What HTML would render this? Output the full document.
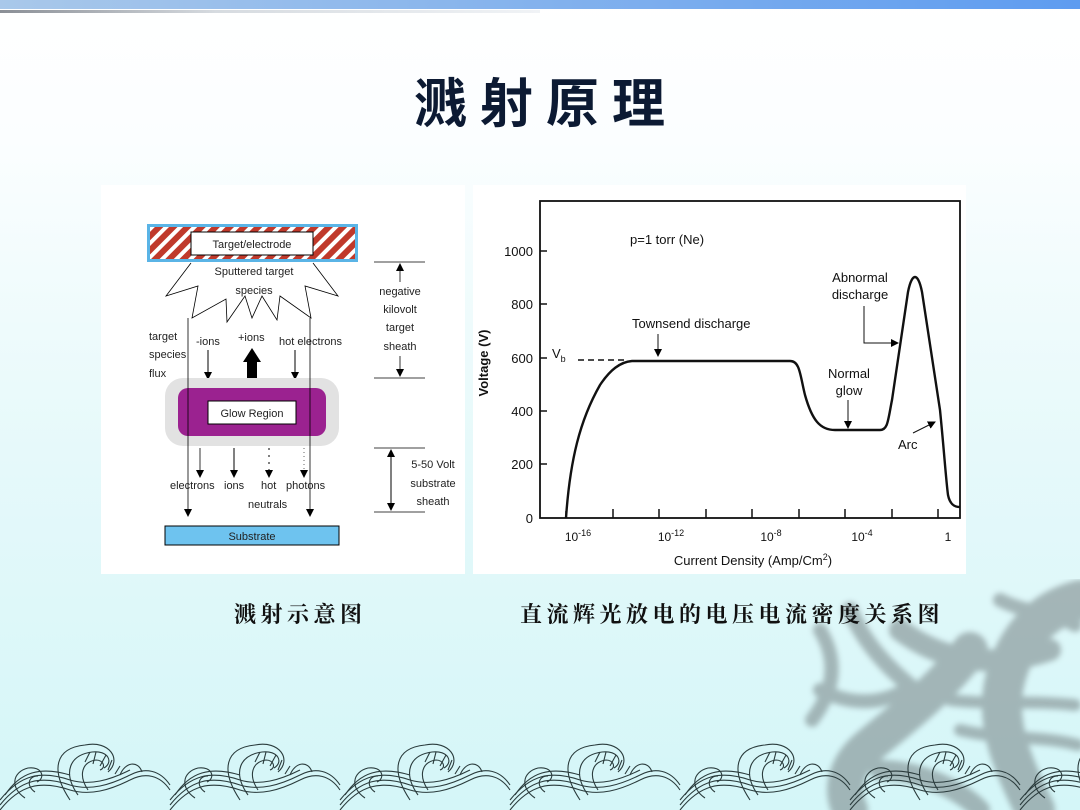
<!DOCTYPE html>
<html><head><meta charset="utf-8"><style>
html,body{margin:0;padding:0}
body{width:1080px;height:810px;overflow:hidden;background:linear-gradient(#ffffff 0px,#fbfeff 140px,#e6f9fa 450px,#d4f6f8 810px);position:relative;font-family:"Liberation Sans",sans-serif}
svg{position:absolute;left:0;top:0}
</style></head><body>
<svg width="1080" height="810" viewBox="0 0 1080 810" xmlns="http://www.w3.org/2000/svg">
<defs>
<linearGradient id="tb" x1="0" x2="1"><stop offset="0" stop-color="#a9c8ea"/><stop offset="1" stop-color="#5e9cf0"/></linearGradient>
<linearGradient id="gl" x1="0" x2="1"><stop offset="0" stop-color="#8a8f96"/><stop offset="0.4" stop-color="#d6dbe0"/><stop offset="1" stop-color="#f0f3f6"/></linearGradient>
<pattern id="hatch" width="10" height="10" patternUnits="userSpaceOnUse" patternTransform="rotate(45)"><rect width="10" height="10" fill="#fff"/><rect width="6" height="10" fill="#c0392b"/></pattern>
<filter id="bl"><feGaussianBlur stdDeviation="3"/></filter>
<marker id="ar" markerWidth="8" markerHeight="8" refX="7" refY="4" orient="auto" markerUnits="userSpaceOnUse"><path d="M0,0 L8,4 L0,8z" fill="#000"/></marker>
</defs>
<rect x="0" y="0" width="1080" height="9" fill="url(#tb)"/>
<rect x="0" y="10" width="540" height="3" fill="url(#gl)"/>
<text x="546" y="122" text-anchor="middle" font-family="'Noto Sans CJK SC',sans-serif" font-weight="bold" font-size="53" letter-spacing="13" fill="#0c1a33">溅射原理</text>

<!-- dragon -->
<g filter="url(#bl)" stroke="#7d8a8c" fill="none" opacity="0.6" stroke-linecap="round">
<path d="M1080,600 C1040,610 1015,640 1005,680 C995,720 1010,760 1035,810" stroke-width="40"/>
<path d="M970,650 C940,690 900,720 870,745 C845,765 840,790 850,810" stroke-width="36"/>
<path d="M900,630 C940,660 990,670 1050,650" stroke-width="22"/>
<path d="M850,610 C865,645 890,670 915,690" stroke-width="16"/>
<path d="M820,690 C850,705 880,705 905,690" stroke-width="14"/>
<path d="M960,730 C1000,740 1040,735 1078,745" stroke-width="12"/>
<path d="M950,700 C990,705 1030,700 1075,705" stroke-width="12"/>
<path d="M820,630 C838,660 835,690 812,720" stroke-width="14"/>
<path d="M1000,600 C1030,615 1050,610 1075,625" stroke-width="14"/>
<path d="M880,770 C920,770 960,790 980,810" stroke-width="20"/>
</g>

<!-- waves -->
<g fill="none" stroke="#2a3b3c" stroke-width="1.1">
<g id="w">
<path d="M0,810 C20,785 40,780 70,790 C90,796 110,790 130,780 C145,772 160,775 170,790"/>
<path d="M0,805 C20,780 40,775 70,785 C90,791 110,785 130,775 C145,767 160,770 170,785"/>
<path d="M0,800 C20,775 40,770 70,780 C90,786 110,780 130,770"/>
<path d="M5,795 C20,772 40,766 70,775"/>
<path d="M70,800 C50,770 55,748 85,745 C110,740 122,760 108,772"/>
<path d="M78,795 C62,772 70,755 92,752 C108,750 114,762 104,768"/>
<path d="M88,790 C78,775 82,762 96,760 C104,760 106,768 100,770"/>
<path d="M120,775 C125,762 138,760 142,772"/>
<path d="M25,798 C10,788 12,772 28,768 C42,766 46,778 37,782"/>
<path d="M35,792 C26,786 28,776 38,776"/>
<path d="M85,762 l5,-10 M93,764 l3,-12 M100,766 l6,-11 M108,770 l4,-10 M115,774 l5,-8"/>
</g>
<use href="#w" x="170"/><use href="#w" x="340"/><use href="#w" x="510"/><use href="#w" x="680"/><use href="#w" x="850"/><use href="#w" x="1020"/>
</g>

<!-- left panel -->
<rect x="101" y="185" width="364" height="389" fill="#fff"/>
<g font-size="11" fill="#222" font-family="'Liberation Sans',sans-serif">
<rect x="147" y="224" width="211" height="38" fill="#5ab4e6"/>
<rect x="150" y="227" width="205" height="32" fill="url(#hatch)"/>
<rect x="191" y="232" width="122" height="23" fill="#fff" stroke="#000"/>
<text x="252" y="248" text-anchor="middle">Target/electrode</text>
<path d="M191,263 L166,296 L198,286 L192,318 L226,299 L227,322 L245,296 L252,318 L262,296 L277,320 L280,296 L311,318 L305,286 L338,296 L313,263" fill="none" stroke="#000" stroke-width="0.8"/>
<text x="254" y="275" text-anchor="middle">Sputtered target</text>
<text x="254" y="294" text-anchor="middle">species</text>
<text x="149" y="340">target</text><text x="149" y="358">species</text><text x="149" y="377">flux</text>
<text x="196" y="345">-ions</text><text x="238" y="341">+ions</text><text x="279" y="345">hot electrons</text>
<line x1="208" y1="350" x2="208" y2="379" stroke="#000" marker-end="url(#ar)"/>
<line x1="295" y1="350" x2="295" y2="379" stroke="#000" marker-end="url(#ar)"/>
<path d="M247,379 L247,362 L243,362 L252,348 L261,362 L257,362 L257,379z" fill="#000"/>
<rect x="165" y="378" width="174" height="68" rx="18" fill="#e2e2e2"/>
<rect x="178" y="388" width="148" height="48" rx="10" fill="#9b2290"/>
<rect x="208" y="401" width="88" height="23" fill="#fff" stroke="#000"/>
<text x="252" y="417" text-anchor="middle">Glow Region</text>
<line x1="188" y1="318" x2="188" y2="516" stroke="#000" stroke-width="0.8" marker-end="url(#ar)"/>
<line x1="310" y1="318" x2="310" y2="516" stroke="#000" stroke-width="0.8" marker-end="url(#ar)"/>
<line x1="200" y1="448" x2="200" y2="477" stroke="#000" stroke-width="0.8" marker-end="url(#ar)"/>
<line x1="234" y1="448" x2="234" y2="477" stroke="#000" marker-end="url(#ar)"/>
<line x1="269" y1="448" x2="269" y2="477" stroke="#000" stroke-dasharray="2,5" marker-end="url(#ar)"/>
<line x1="304" y1="448" x2="304" y2="477" stroke="#000" stroke-width="0.6" stroke-dasharray="1,3" marker-end="url(#ar)"/>
<text x="170" y="489">electrons</text><text x="224" y="489">ions</text><text x="261" y="489">hot</text><text x="286" y="489">photons</text>
<text x="248" y="508">neutrals</text>
<rect x="165" y="526" width="174" height="19" fill="#6ec3ef" stroke="#000"/>
<text x="252" y="540" text-anchor="middle">Substrate</text>
<line x1="374" y1="262" x2="425" y2="262" stroke="#000" stroke-width="0.8"/>
<line x1="374" y1="378" x2="425" y2="378" stroke="#000" stroke-width="0.8"/>
<line x1="400" y1="282" x2="400" y2="264" stroke="#000" stroke-width="0.8" marker-end="url(#ar)"/>
<line x1="400" y1="356" x2="400" y2="376" stroke="#000" stroke-width="0.8" marker-end="url(#ar)"/>
<text x="400" y="295" text-anchor="middle">negative</text><text x="400" y="313" text-anchor="middle">kilovolt</text>
<text x="400" y="331" text-anchor="middle">target</text><text x="400" y="350" text-anchor="middle">sheath</text>
<line x1="374" y1="448" x2="425" y2="448" stroke="#000" stroke-width="0.8"/>
<line x1="374" y1="512" x2="425" y2="512" stroke="#000" stroke-width="0.8"/>
<line x1="391" y1="470" x2="391" y2="450" stroke="#000" marker-end="url(#ar)"/>
<line x1="391" y1="490" x2="391" y2="510" stroke="#000" marker-end="url(#ar)"/>
<line x1="391" y1="465" x2="391" y2="495" stroke="#000"/>
<text x="433" y="468" text-anchor="middle">5-50 Volt</text><text x="433" y="487" text-anchor="middle">substrate</text><text x="433" y="505" text-anchor="middle">sheath</text>
</g>

<!-- right panel -->
<rect x="473" y="185" width="493" height="389" fill="#fff"/>
<g font-family="'Liberation Sans',sans-serif" fill="#111" font-size="13">
<rect x="540" y="201" width="420" height="317" fill="none" stroke="#111" stroke-width="1.8"/>
<g stroke="#111" stroke-width="1.5">
<line x1="540" y1="251" x2="547" y2="251"/><line x1="540" y1="304" x2="547" y2="304"/><line x1="540" y1="358" x2="547" y2="358"/><line x1="540" y1="411" x2="547" y2="411"/><line x1="540" y1="464" x2="547" y2="464"/>
<line x1="566" y1="518" x2="566" y2="511"/><line x1="613" y1="518" x2="613" y2="509"/><line x1="659" y1="518" x2="659" y2="509"/><line x1="706" y1="518" x2="706" y2="509"/><line x1="752" y1="518" x2="752" y2="509"/><line x1="799" y1="518" x2="799" y2="509"/><line x1="845" y1="518" x2="845" y2="509"/><line x1="892" y1="518" x2="892" y2="509"/><line x1="938" y1="518" x2="938" y2="509"/>
</g>
<text x="533" y="256" text-anchor="end">1000</text><text x="533" y="309" text-anchor="end">800</text><text x="533" y="363" text-anchor="end">600</text><text x="533" y="416" text-anchor="end">400</text><text x="533" y="469" text-anchor="end">200</text><text x="533" y="523" text-anchor="end">0</text>
<text x="578" y="541" text-anchor="middle" font-size="12">10<tspan dy="-5" font-size="9">-16</tspan></text>
<text x="671" y="541" text-anchor="middle" font-size="12">10<tspan dy="-5" font-size="9">-12</tspan></text>
<text x="771" y="541" text-anchor="middle" font-size="12">10<tspan dy="-5" font-size="9">-8</tspan></text>
<text x="862" y="541" text-anchor="middle" font-size="12">10<tspan dy="-5" font-size="9">-4</tspan></text>
<text x="948" y="541" text-anchor="middle" font-size="12">1</text>
<text x="753" y="565" text-anchor="middle">Current Density (Amp/Cm<tspan dy="-5" font-size="9">2</tspan><tspan dy="5">)</tspan></text>
<text transform="translate(488,363) rotate(-90)" text-anchor="middle" font-weight="bold" font-size="13">Voltage (V)</text>
<text x="630" y="244">p=1 torr (Ne)</text>
<text x="552" y="358">V<tspan dy="4" font-size="9">b</tspan></text>
<line x1="578" y1="360" x2="625" y2="360" stroke="#111" stroke-width="1.5" stroke-dasharray="6,4"/>
<text x="632" y="328">Townsend discharge</text>
<line x1="658" y1="334" x2="658" y2="356" stroke="#111" marker-end="url(#ar)"/>
<text x="860" y="282" text-anchor="middle">Abnormal</text><text x="860" y="299" text-anchor="middle">discharge</text>
<path d="M864,306 L864,343 L898,343" fill="none" stroke="#111" marker-end="url(#ar)"/>
<text x="849" y="378" text-anchor="middle">Normal</text><text x="849" y="395" text-anchor="middle">glow</text>
<line x1="848" y1="400" x2="848" y2="428" stroke="#111" marker-end="url(#ar)"/>
<text x="898" y="449">Arc</text>
<line x1="913" y1="433" x2="935" y2="422" stroke="#111" marker-end="url(#ar)"/>
<path d="M566,518 C570,460 580,420 600,385 C610,370 620,362 632,361 L790,361 C800,361 800,375 805,395 C812,420 820,430 835,430 L880,430 C888,430 888,420 892,400 L908,292 C912,272 918,272 922,292 L940,410 C944,450 946,480 948,495 C950,505 955,507 960,507" fill="none" stroke="#111" stroke-width="2.4"/>
</g>

<g font-family="'Noto Serif CJK SC','Noto Sans CJK SC',serif" font-weight="bold" font-size="22" fill="#111" letter-spacing="4.5">
<text x="234" y="622">溅射示意图</text>
<text x="520" y="622">直流辉光放电的电压电流密度关系图</text>
</g>
</svg>
</body></html>
